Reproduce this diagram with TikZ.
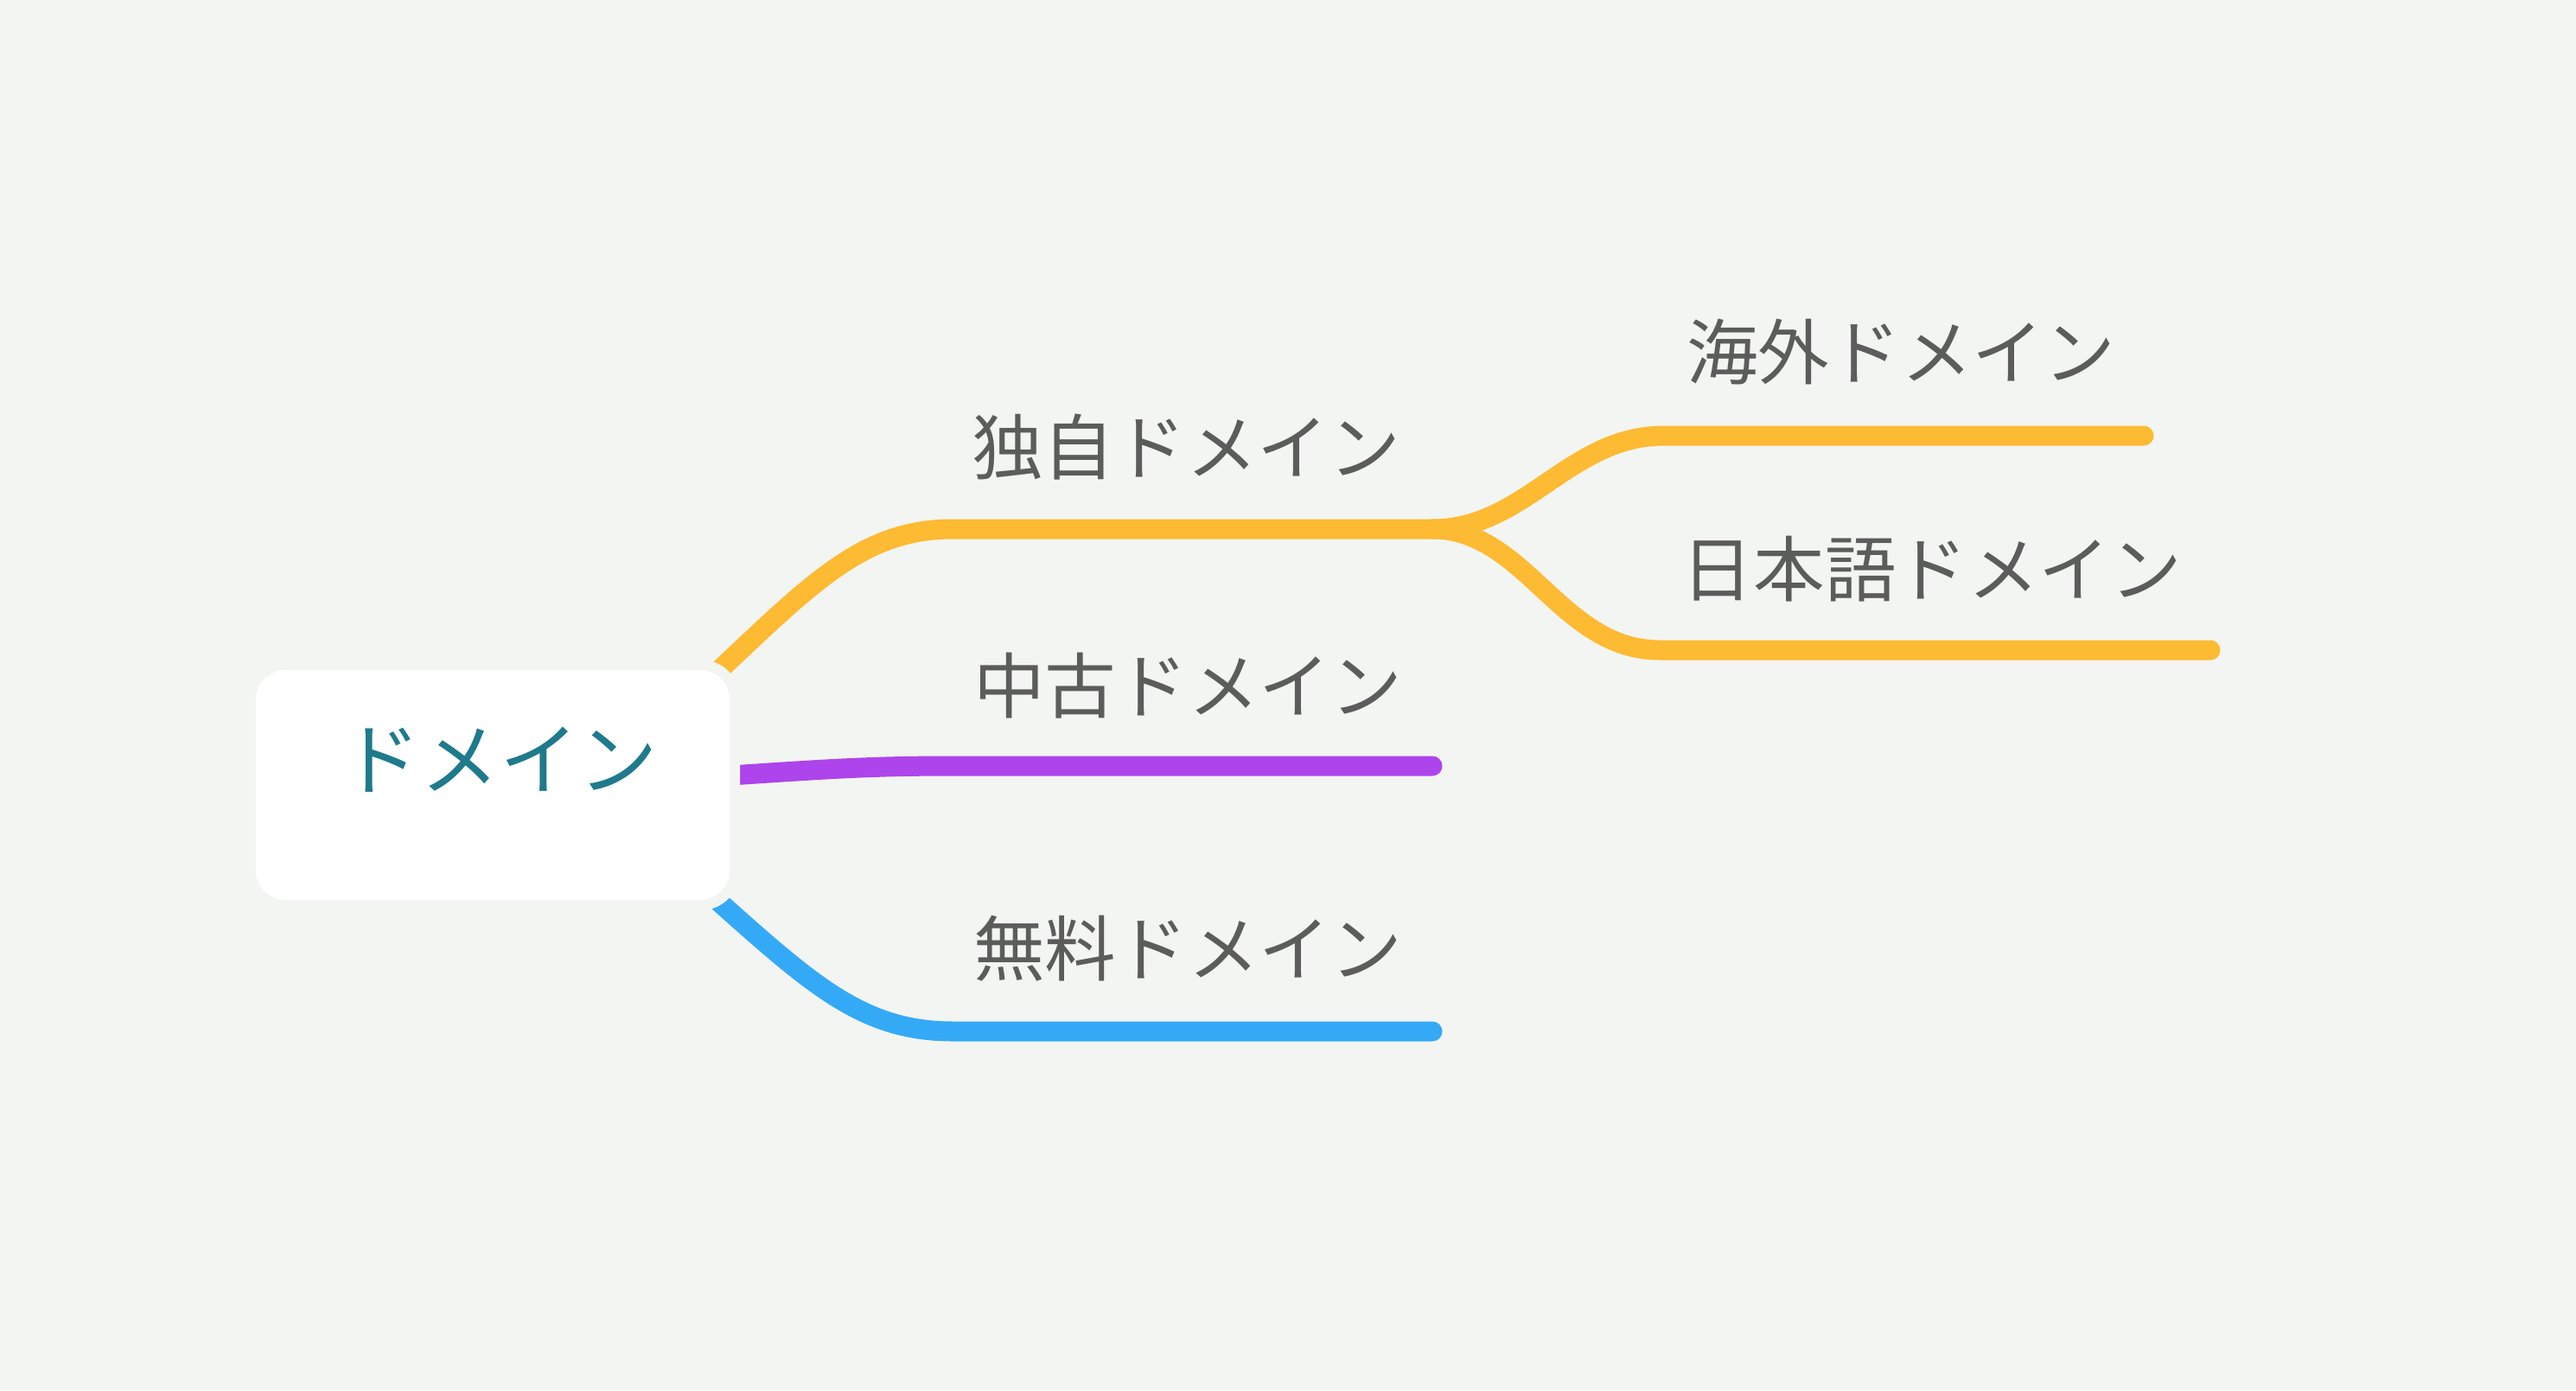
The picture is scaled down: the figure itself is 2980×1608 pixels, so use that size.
\documentclass[tikz,border=0pt]{standalone}
\usepackage{fontspec}
\usepackage{tikz}
\usetikzlibrary{calc}
\newfontfamily\jp{Noto Sans CJK JP}
\definecolor{bgcol}{HTML}{F3F5F2}
\definecolor{rootcol}{HTML}{1F7A8C}
\definecolor{labelcol}{HTML}{5C5C5C}
\definecolor{orangecol}{HTML}{FDBA33}
\definecolor{purplecol}{HTML}{AE44EC}
\definecolor{bluecol}{HTML}{34AAF6}
\tikzset{branch/.style={line width=0.23cm, line cap=round},
  label/.style={inner sep=0pt, text=labelcol, font=\jp\fontsize{23.5pt}{24pt}\selectfont},
  root/.style={fill=white, draw=bgcol, line width=0.12cm, rounded corners=0.4cm,
    minimum width=5.60cm, minimum height=2.78cm, inner sep=0pt}}

\begin{document}
\begin{tikzpicture}[x=0.01cm, y=-0.01cm]
    \fill [bgcol] (0,0) rectangle (2980,1608);
    \useasboundingbox (0,0) rectangle (2980,1608);

    \coordinate (own-start) at (1102,612);
    \coordinate (own-end) at (1657,612);
    \coordinate (used-start) at (1102,886);
    \coordinate (used-end) at (1657,886);
    \coordinate (free-start) at (1102,1193);
    \coordinate (free-end) at (1657,1193);
    \coordinate (overseas-start) at (1925,504);
    \coordinate (overseas-end) at (2480,504);
    \coordinate (jp-start) at (1920,752);
    \coordinate (jp-end) at (2557,752);

    \coordinate (root-pos) at (570,908);

    % branches first, the box covers their ends
    \draw [branch, orangecol] (800,805) .. controls (930,685) and (990,612) .. (own-start) -- (own-end);
    \draw [branch, orangecol] (own-end) .. controls (1765,612) and (1815,504) .. (overseas-start) -- (overseas-end);
    \draw [branch, orangecol] (own-end) .. controls (1765,612) and (1805,752) .. (jp-start) -- (jp-end);
    \draw [branch, purplecol] (800,900) .. controls (950,890) and (1000,886) .. (used-start) -- (used-end);
    \draw [branch, bluecol] (800,1015) .. controls (930,1130) and (990,1193) .. (free-start) -- (free-end);

    \node [root] (root) at (root-pos) {};
    \node [inner sep=0pt, text=rootcol, font=\jp\fontsize{26pt}{27pt}\selectfont] (root-text) at (578,879) {ドメイン};

    \node [label] (own) at (1372,517) {独自ドメイン};
    \node [label] (used) at (1374,793) {中古ドメイン};
    \node [label] (free) at (1374,1097) {無料ドメイン};
    \node [label] (overseas) at (2199,407) {海外ドメイン};
    \node [label] (jp) at (2235,658) {日本語ドメイン};
\end{tikzpicture}
\end{document}
